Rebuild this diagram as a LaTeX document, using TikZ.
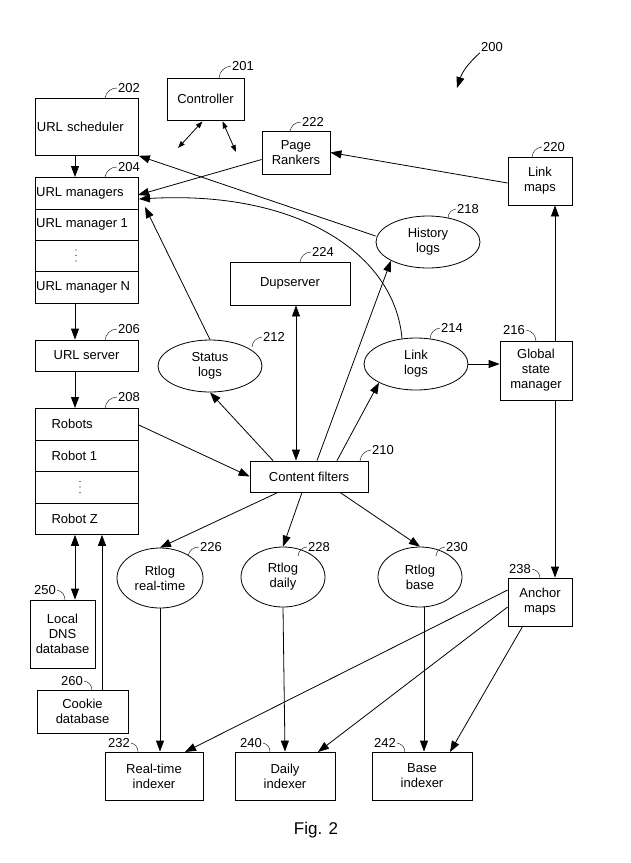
\documentclass[tikz,border=0pt]{standalone}
\usepackage{fontspec}
\setmainfont{Liberation Sans}
\usetikzlibrary{arrows.meta,shapes.geometric}
\begin{document}
\begin{tikzpicture}[x=1pt,y=-1pt,
  every node/.style={font=\fontsize{13}{15}\selectfont},
  box/.style={draw,thick,inner sep=0,align=center},
  ell/.style={draw,thick,ellipse,inner sep=0,align=center},
  ref/.style={font=\fontsize{13}{15}\selectfont,inner sep=1pt},
  ar/.style={thick,-{Triangle[length=11pt,width=8pt]}},
  dar/.style={thick,{Triangle[length=11pt,width=8pt]}-{Triangle[length=11pt,width=8pt]}},
  hk/.style={thin},
  dot/.style={fill,circle,inner sep=0,minimum size=1.3}]
\useasboundingbox (0,0) rectangle (630,863);
% boxes
\node[box,minimum width=77,minimum height=42] (ctrl) at (205.5,99) {Controller};
\node[box,minimum width=103,minimum height=57,anchor=north west,text width=100,align=left] (sched) at (35,98) {URL scheduler};
\node[box,minimum width=68,minimum height=43] (pr) at (296,152.5) {Page\\Rankers};
\node[box,minimum width=64,minimum height=48] (lm) at (540,181) {Link\\maps};
\node[box,minimum width=120,minimum height=43] (dup) at (290,283.5) {Dupserver};
\node[box,minimum width=72,minimum height=59] (gsm) at (536,370.5) {Global\\state\\manager};
\node[box,minimum width=118,minimum height=31] (cf) at (309,476.5) {Content filters};
\node[box,minimum width=64,minimum height=48] (am) at (540,602) {Anchor\\maps};
\node[box,minimum width=103,minimum height=31] (us) at (86.5,355.5) {URL server};
\node[box,minimum width=65,minimum height=68] (dns) at (62.5,634) {Local\\DNS\\database};
\node[box,minimum width=91,minimum height=43] (cook) at (82.5,711.5) {Cookie\\database};
\node[box,minimum width=98,minimum height=48] (rti) at (154,776) {Real-time\\indexer};
\node[box,minimum width=100,minimum height=48] (di) at (285,776) {Daily\\indexer};
\node[box,minimum width=100,minimum height=48] (bi) at (422,776) {Base\\indexer};
% stacks
\node[box,minimum width=103,minimum height=126,anchor=north west] (um) at (35,177) {};
\draw[thick] (35,209) -- (138,209) (35,240) -- (138,240) (35,271) -- (138,271);
\node[anchor=west,inner sep=1pt] at (35,193) {URL managers};
\node[anchor=west,inner sep=1pt] at (35,224.5) {URL manager 1};
\node[dot] at (76,250) {}; \node[dot] at (76,255.5) {}; \node[dot] at (76,261) {};
\node[anchor=west,inner sep=1pt] at (35,287) {URL manager N};
\node[box,minimum width=103,minimum height=126,anchor=north west] (rob) at (35,408) {};
\draw[thick] (35,440) -- (138,440) (35,471) -- (138,471) (35,503) -- (138,503);
\node[anchor=west] at (48,424) {Robots};
\node[anchor=west] at (48,455.5) {Robot 1};
\node[dot] at (80,481.5) {}; \node[dot] at (80,487) {}; \node[dot] at (80,492.5) {};
\node[anchor=west] at (48,518.5) {Robot Z};
% ellipses
\node[ell,minimum width=104,minimum height=52] (hl) at (428,242) {History\\logs};
\node[ell,minimum width=104,minimum height=52] (sl) at (210,366) {Status\\logs};
\node[ell,minimum width=104,minimum height=52] (ll) at (416,364) {Link\\logs};
\node[ell,minimum width=86,minimum height=60] (rrt) at (160,578) {Rtlog\\real-time};
\node[ell,minimum width=84,minimum height=60] (rd) at (283,577) {Rtlog\\daily};
\node[ell,minimum width=84,minimum height=60] (rb) at (420,577) {Rtlog\\base};
% reference labels
\node[ref] (n201) at (243,66) {201}; \draw[hk] (n201.west) to[bend right=40] (219,78);
\node[ref] (n202) at (129,88) {202}; \draw[hk] (n202.west) to[bend right=40] (105,98);
\node[ref] (n204) at (129,167) {204}; \draw[hk] (n204.west) to[bend right=40] (105,177);
\node[ref] (n222) at (313,122) {222}; \draw[hk] (n222.west) to[bend right=40] (290,131);
\node[ref] (n220) at (554,147) {220}; \draw[hk] (n220.west) to[bend right=40] (532,157);
\node[ref] (n218) at (468,209) {218}; \draw[hk] (n218.west) to[bend right=40] (448,218);
\node[ref] (n224) at (323,252) {224}; \draw[hk] (n224.west) to[bend right=40] (300,262);
\node[ref] (n206) at (129,329) {206}; \draw[hk] (n206.west) to[bend right=40] (105,340);
\node[ref] (n212) at (274,337) {212}; \draw[hk] (n212.west) to[bend right=40] (252,347);
\node[ref] (n214) at (452,328) {214}; \draw[hk] (n214.west) to[bend right=40] (430,339);
\node[ref] (n216) at (514,330) {216}; \draw[hk] (n216.east) to[bend left=40] (536,341);
\node[ref] (n208) at (129,397) {208}; \draw[hk] (n208.west) to[bend right=40] (105,408);
\node[ref] (n210) at (383,450) {210}; \draw[hk] (n210.west) to[bend right=40] (360,461);
\node[ref] (n226) at (211,547) {226}; \draw[hk] (n226.west) to[bend right=40] (188,556);
\node[ref] (n228) at (319,547) {228}; \draw[hk] (n228.west) to[bend right=40] (298,556);
\node[ref] (n230) at (457,547) {230}; \draw[hk] (n230.west) to[bend right=40] (436,556);
\node[ref] (n238) at (520,569) {238}; \draw[hk] (n238.east) to[bend left=40] (540,578);
\node[ref] (n250) at (45,590) {250}; \draw[hk] (n250.east) to[bend left=40] (65,600);
\node[ref] (n260) at (72,681) {260}; \draw[hk] (n260.east) to[bend left=40] (92,690);
\node[ref] (n232) at (119,743) {232}; \draw[hk] (n232.east) to[bend left=40] (138,752);
\node[ref] (n240) at (251,743) {240}; \draw[hk] (n240.east) to[bend left=40] (270,752);
\node[ref] (n242) at (385,743) {242}; \draw[hk] (n242.east) to[bend left=40] (405,752);
\node[ref] (n200) at (492,47) {200};
\coordinate (t200) at (457,88);
\draw[ar] (n200.south west) to[bend right=15] (t200);
% controller arrows
\coordinate (c1) at (178,148); \coordinate (c2) at (236,152);
\draw[dar,{Triangle[length=7pt,width=5pt]}-{Triangle[length=7pt,width=5pt]}] (ctrl.south)++(-3,1) coordinate (c1s) (c1s) -- (c1);
\draw[dar,{Triangle[length=7pt,width=5pt]}-{Triangle[length=7pt,width=5pt]}] (ctrl.south)++(17,1) coordinate (c2s) (c2s) -- (c2);
% connectors
\draw[ar] (sched.south -| 75,0) -- (um.north -| 75,0);
\draw[ar] (um.south -| 75,0) -- (us.north -| 75,0);
\draw[ar] (us.south -| 75,0) -- (rob.north -| 75,0);
\draw[ar] (lm.west) ++(0,2) -- (pr.east);
\draw[ar] (pr.west) ++(0,7) -- (138,195);
\draw[ar] (hl.west) ++(0,-6) -- (sched.south east);
\draw[ar] (ll.north) ++(-14,1) .. controls (395,255) and (300,190) .. (139,199);
\draw[ar] (sl.north) -- (145,207);
\draw[ar] (cf.north) ++(-36,0) -- (sl.south);
\draw[dar] (cf.north -| 296,0) -- (dup.south -| 296,0);
\draw[ar] (cf.north) ++(8,0) -- (hl.south west);
\draw[ar] (cf.north) ++(28,0) -- (ll.south west);
\draw[ar] (ll.east) -- (gsm.west |- ll.east);
\draw[ar] (gsm.north -| 555,0) -- (lm.south -| 555,0);
\draw[ar] (gsm.south -| 555,0) -- (am.north -| 555,0);
\draw[ar] (rob.north east) ++(0,17) -- (cf.west);
\draw[ar] (cf.south) ++(-31,0) -- (rrt.north);
\draw[ar] (cf.south) ++(-7,0) -- (rd.north);
\draw[ar] (cf.south) ++(31,0) -- (rb.north);
\draw[dar] (rob.south -| 75,0) -- (dns.north -| 75,0);
\draw[ar] (cook.north -| 102,0) -- (rob.south -| 102,0);
\draw[ar] (rrt.south) -- (rti.north -| rrt.south);
\draw[ar] (rd.south) -- (di.north);
\draw[ar] (rb.south) ++(4,0) coordinate (rbs) (rbs) -- (bi.north -| rbs);
\draw[ar] (am.west) ++(0,-12) -- (185,752);
\draw[ar] (am.west) ++(0,5) -- (318,752);
\draw[ar] (am.south west) ++(15,0) -- (450,752);
\node (fig) at (316,830) {\fontsize{17}{19}\selectfont Fig. 2};
\end{tikzpicture}
\end{document}
